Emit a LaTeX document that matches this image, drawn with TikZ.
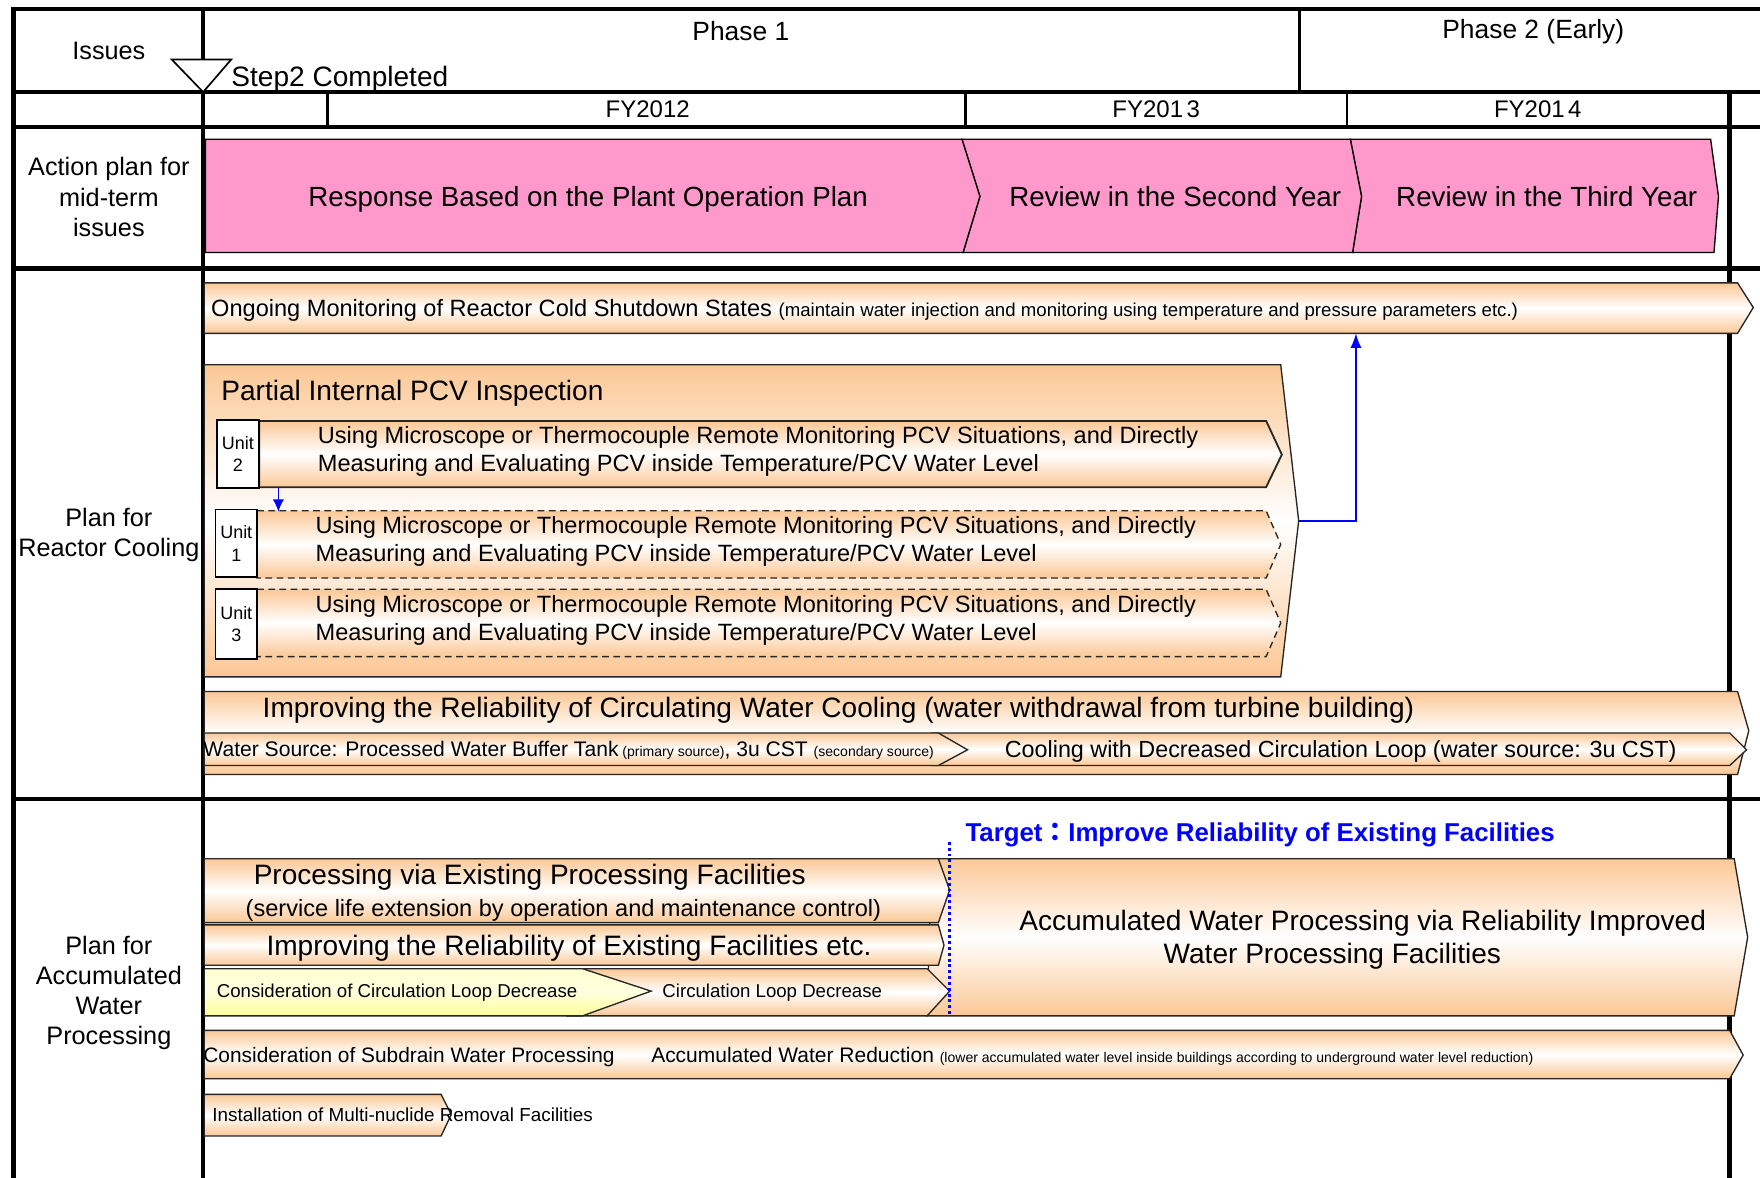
\documentclass[tikz,border=0pt]{standalone}
\usepackage{fontspec}
\setmainfont{Liberation Sans}
\newfontfamily\cjk{Noto Sans CJK JP}
\usetikzlibrary{arrows.meta}

\definecolor{peach}{RGB}{251,200,150}
\definecolor{pinkfill}{RGB}{255,153,204}
\definecolor{paleyellow}{RGB}{255,255,150}
\definecolor{pureblue}{RGB}{0,0,255}

\newcommand\fsz[2]{\fontsize{#1}{#2}\selectfont}

\begin{document}
\begin{tikzpicture}[x=1pt,y=-1pt,
  every node/.style={inner sep=0pt},
  gridline/.style={line width=4pt},
  cellline/.style={line width=2.4pt},
  bar/.style={draw=black!85, line width=1.2pt, top color=peach, bottom color=peach, middle color=white},
  ybar/.style={draw=black!85, line width=1.2pt, top color=paleyellow!45, bottom color=paleyellow, middle color=paleyellow!30},
  pinkbar/.style={draw=black, line width=1.2pt, fill=pinkfill},
  unitbox/.style={draw=black, line width=1.5pt, fill=white, align=center, font=\fsz{16}{20}, minimum width=37pt},
  dashbar/.style={bar, dash pattern=on 6pt off 4pt},
  bluearrow/.style={draw=pureblue, line width=1.5pt, -{Latex[length=13pt,width=10pt]}},
  lbl/.style={align=center, font=\fsz{22.5}{26.8}},
  f25/.style={font=\fsz{25}{30}},
  f21/.style={font=\fsz{21}{25}},
  pinktext/.style={anchor=base, font=\fsz{24.7}{30}},
]
\useasboundingbox (0,0) rectangle (1568,1049);
\clip (0,0) rectangle (1568,1049);
\fill[white] (0,0) rectangle (1568,1049);

% ---- table frame ----
\draw[gridline] (12,8) -- (1572,8);
\draw[gridline] (12,6) -- (12,1052);
\draw[gridline] (12,82) -- (1572,82);
\draw[gridline] (12,113) -- (1572,113);
\draw[gridline] (12,239) -- (1572,239);
\draw[gridline] (12,712) -- (1572,712);
\draw[gridline] (181,8) -- (181,1052);
\draw[gridline] (1541,82) -- (1541,1052);
\draw[cellline] (1158,8) -- (1158,82);
\draw[cellline] (292,82) -- (292,113);
\draw[cellline] (860,82) -- (860,113);
\draw[cellline] (1200,82) -- (1200,113);

% ---- header ----
\node[lbl] (issues) at (97,45) {Issues};
\node[anchor=base, font=\fsz{23.5}{28}] (phase1) at (660,36.5) {Phase 1};
\node[anchor=base, font=\fsz{23.5}{28}] (phase2) at (1366,34.5) {Phase 2 (Early)};
\path[draw=black, line width=1.5pt, fill=white] (153,53) -- (206,53) -- (181,82) -- cycle;
\node[anchor=base west, font=\fsz{25}{30}] (step2) at (206,77) {Step2 Completed};
\node[anchor=base, font=\fsz{21.4}{26}] (fy12) at (577,104.7) {FY2012};
\node[anchor=base, font=\fsz{21.4}{26}] (fy13) at (1030,104.7) {FY201\kern3pt3};
\node[anchor=base, font=\fsz{21.4}{26}] (fy14) at (1370,104.7) {FY201\kern3pt4};

% ---- row labels ----
\node[lbl] (actlbl) at (97,175.5) {Action plan for\\mid-term\\issues};
\node[lbl] (coollbl) at (97,476.5) {Plan for\\Reactor Cooling};
\node[lbl] (waterlbl) at (97,884.5) {Plan for\\Accumulated\\Water\\Processing};

% ---- action plan chevrons ----
\path[pinkbar] (1203,124) -- (1524,124) -- (1531,175) -- (1527,225) -- (1205,225) -- (1213,175) -- cycle;
\path[pinkbar] (857,124) -- (1203,124) -- (1213,175) -- (1205,225) -- (858,225) -- (873,175) -- cycle;
\path[pinkbar] (183,124) -- (857,124) -- (873,175) -- (858,225) -- (183,225) -- cycle;
\node[pinktext] (resp) at (524,183.9) {Response Based on the Plant Operation Plan};
\node[pinktext] (rev2) at (1047,183.9) {Review in the Second Year};
\node[pinktext] (rev3) at (1378,183.9) {Review in the Third Year};

% ---- reactor cooling ----
\path[bar] (182,252) -- (1548,252) -- (1562,274) -- (1548,297) -- (182,297) -- cycle;
\node[anchor=base west, f21] (ongoing) at (188,281.6) {Ongoing Monitoring of Reactor Cold Shutdown States {\fsz{16.6}{20}(maintain water injection and monitoring using temperature and pressure parameters etc.)}};
\coordinate (ongoingfoot) at (1208,297);

\path[bar] (182,325) -- (1141,325) -- (1157,464) -- (1141,603) -- (182,603) -- cycle;
\coordinate (pcvtip) at (1157,464);
\node[anchor=base west, f25] (pcvtitle) at (197,357) {Partial Internal PCV Inspection};

\path[bar, line width=1.6pt] (231,375) -- (1128,375) -- (1142,405) -- (1128,434) -- (231,434) -- cycle;
\path[dashbar] (229,455) -- (1128,455) -- (1141,485) -- (1128,515) -- (229,515) -- cycle;
\path[dashbar] (229,525) -- (1128,525) -- (1141,555) -- (1128,585) -- (229,585) -- cycle;

\node[unitbox, minimum height=61pt] (unit2) at (212,404.5) {Unit\\2};
\node[unitbox, minimum height=60pt] (unit1) at (210.5,484) {Unit\\1};
\node[unitbox, minimum height=62pt] (unit3) at (210.5,556) {Unit\\3};

\node[anchor=west, f21, align=left] (u2txt) at (283,402) {Using Microscope or Thermocouple Remote Monitoring PCV Situations, and Directly\\Measuring and Evaluating PCV inside Temperature/PCV Water Level};
\node[anchor=west, f21, align=left] (u1txt) at (281,482) {Using Microscope or Thermocouple Remote Monitoring PCV Situations, and Directly\\Measuring and Evaluating PCV inside Temperature/PCV Water Level};
\node[anchor=west, f21, align=left] (u3txt) at (281,553) {Using Microscope or Thermocouple Remote Monitoring PCV Situations, and Directly\\Measuring and Evaluating PCV inside Temperature/PCV Water Level};

\coordinate (u2foot) at (248,435);
\coordinate (u1head) at (248,456);
\draw[bluearrow, -{Latex[length=11pt,width=10pt]}] (u2foot) -- (u1head);
\draw[bluearrow] (pcvtip) -| (ongoingfoot);

\path[bar] (182,616) -- (1548,616) -- (1558,651) -- (1548,690) -- (182,690) -- cycle;
\node[anchor=base, f25] (circ) at (747,639) {Improving the Reliability of Circulating Water Cooling (water withdrawal from turbine building)};
\path[bar] (830,653) -- (1541,653) -- (1556,668) -- (1541,682) -- (830,682) -- cycle;
\path[bar] (182,653) -- (836,653) -- (862,668) -- (836,682) -- (182,682) -- cycle;
\node[anchor=base west, font=\fsz{18.8}{22}] (wsrc) at (181,673.8) {Water Source: Processed Water Buffer Tank{\fsz{12.5}{15} (primary source)}, 3u CST {\fsz{12.5}{15}(secondary source)}};
\node[anchor=base west, font=\fsz{20.8}{25}] (decloop) at (895,674.5) {Cooling with Decreased Circulation Loop (water source: 3u CST)};

% ---- accumulated water processing ----
\node[anchor=base west, text=pureblue, font=\bfseries\fsz{23}{28}] (target) at (860,749.3) {Target{\cjk ：}Improve Reliability of Existing Facilities};

\path[bar] (830,765) -- (1545,765) -- (1557,835) -- (1545,905) -- (826,905) -- cycle;
\node[anchor=base, f25] (accproc1) at (1214,829) {Accumulated Water Processing via Reliability Improved};
\node[anchor=base, f25] (accproc2) at (1187,858) {Water Processing Facilities};

\path[bar] (182,765) -- (836,765) -- (846,793) -- (836,822) -- (182,822) -- cycle;
\node[anchor=base, f25] (pvef) at (472,788) {Processing via Existing Processing Facilities};
\node[anchor=base, f21] (svc) at (502,816.6) {(service life extension by operation and maintenance control)};
\path[bar] (182,824) -- (836,824) -- (841,842) -- (836,860) -- (182,860) -- cycle;
\node[anchor=base, f25] (irefe) at (507,851) {Improving the Reliability of Existing Facilities etc.};
\path[bar] (505,863) -- (826,863) -- (846,883) -- (826,905) -- (505,905) -- cycle;
\path[ybar] (182,863) -- (519,863) -- (580,883) -- (519,905) -- (182,905) -- cycle;
\node[anchor=base west, font=\fsz{16.6}{20}] (ccld) at (193,889) {Consideration of Circulation Loop Decrease};
\node[anchor=base west, font=\fsz{16.6}{20}] (cld) at (590,889) {Circulation Loop Decrease};

\coordinate (tgttop) at (846,750);
\coordinate (tgtbot) at (846,905);
\draw[pureblue, line width=2.6pt, dash pattern=on 2.6pt off 2.6pt] (tgttop) -- (tgtbot);

\path[bar] (182,918) -- (1541,918) -- (1553,940) -- (1541,961) -- (182,961) -- cycle;
\node[anchor=base west, font=\fsz{18.6}{22}] (subdrain) at (181,946.7) {Consideration of Subdrain Water Processing};
\node[anchor=base west, font=\fsz{18.7}{22}] (accred) at (580,946.7) {Accumulated Water Reduction {\fsz{12.5}{14}(lower accumulated water level inside buildings according to underground water level reduction)}};

\path[bar] (182,975) -- (393,975) -- (402,993) -- (393,1012) -- (182,1012) -- cycle;
\node[anchor=base west, font=\fsz{16.8}{20}] (alps) at (189,999) {Installation of Multi-nuclide Removal Facilities};
\end{tikzpicture}
\end{document}
